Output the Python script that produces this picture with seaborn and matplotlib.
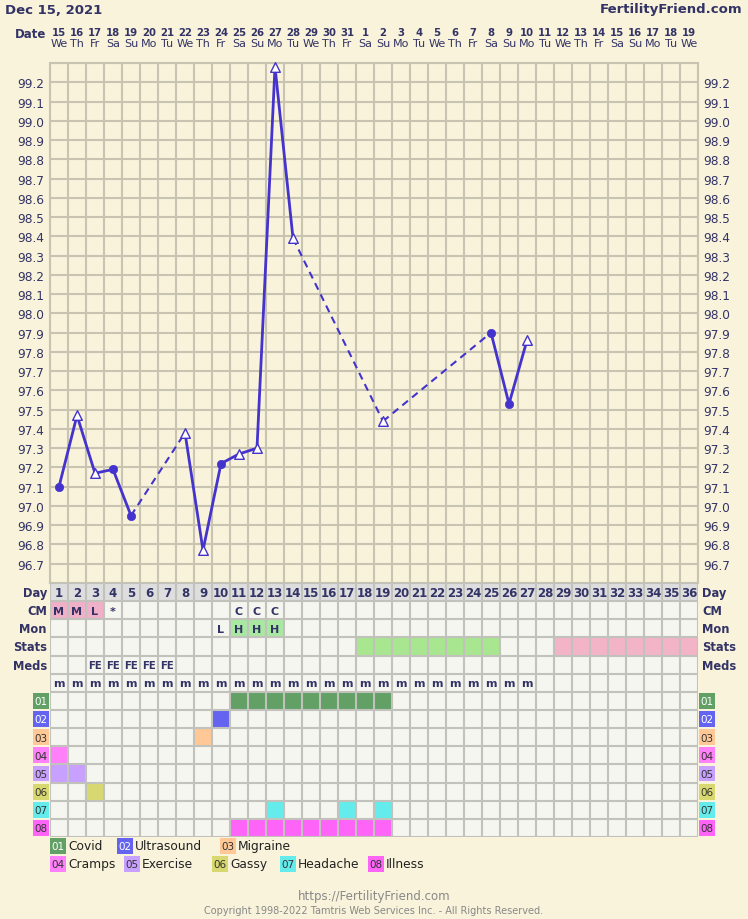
import numpy as np
import pandas as pd
import matplotlib
matplotlib.use('Agg')
import matplotlib.pyplot as plt
from matplotlib.patches import Rectangle
from matplotlib.transforms import blended_transform_factory
import seaborn as sns

sns.set_theme(style='white')
plt.rcParams['font.family'] = ['DejaVu Sans']

# ---------------- data ----------------
title_date = 'Dec 15, 2021'
site_name = 'FertilityFriend.com'
cycle_days = list(range(1, 37))
date_labels = ['15', '16', '17', '18', '19', '20', '21', '22', '23', '24', '25', '26',
               '27', '28', '29', '30', '31', '1', '2', '3', '4', '5', '6', '7', '8',
               '9', '10', '11', '12', '13', '14', '15', '16', '17', '18', '19']
weekday_labels = ['We', 'Th', 'Fr', 'Sa', 'Su', 'Mo', 'Tu', 'We', 'Th', 'Fr', 'Sa', 'Su',
                  'Mo', 'Tu', 'We', 'Th', 'Fr', 'Sa', 'Su', 'Mo', 'Tu', 'We', 'Th', 'Fr',
                  'Sa', 'Su', 'Mo', 'Tu', 'We', 'Th', 'Fr', 'Sa', 'Su', 'Mo', 'Tu', 'We']

temp_days = [1, 2, 3, 4, 5, 8, 9, 10, 11, 12, 13, 14, 19, 25, 26, 27]
temp_values = [97.10, 97.47, 97.17, 97.19, 96.95, 97.38, 96.77, 97.22, 97.27, 97.30,
               99.28, 98.39, 97.44, 97.90, 97.53, 97.86]
temp_markers = ['o', '^', '^', 'o', 'o', '^', '^', 'o', '^', '^', '^', '^', '^', 'o', 'o', '^']
temp_ticks = [96.7, 96.8, 96.9, 97.0, 97.1, 97.2, 97.3, 97.4, 97.5, 97.6, 97.7, 97.8, 97.9,
              98.0, 98.1, 98.2, 98.3, 98.4, 98.5, 98.6, 98.7, 98.8, 98.9, 99.0, 99.1, 99.2]

cm_days = [1, 2, 3, 4, 11, 12, 13]
cm_labels = ['M', 'M', 'L', '*', 'C', 'C', 'C']
cm_shaded = [True, True, True, False, False, False, False]
mon_days = [10, 11, 12, 13]
mon_labels = ['L', 'H', 'H', 'H']
mon_shaded = [False, True, True, True]
stats_green_days = [18, 19, 20, 21, 22, 23, 24, 25]
stats_pink_days = [29, 30, 31, 32, 33, 34, 35, 36]
meds_days = [3, 4, 5, 6, 7]
meds_labels = ['FE', 'FE', 'FE', 'FE', 'FE']
m_days = list(range(1, 28))

symptom_codes = ['01', '02', '03', '04', '05', '06', '07', '08']
symptom_names = ['Covid', 'Ultrasound', 'Migraine', 'Cramps', 'Exercise', 'Gassy',
                 'Headache', 'Illness']
covid_days = [11, 12, 13, 14, 15, 16, 17, 18, 19]
ultrasound_days = [10]
migraine_days = [9]
cramps_days = [1]
exercise_days = [1, 2]
gassy_days = [3]
headache_days = [13, 17, 19]
illness_days = [11, 12, 13, 14, 15, 16, 17, 18, 19]
symptom_days = [covid_days, ultrasound_days, migraine_days, cramps_days, exercise_days,
                gassy_days, headache_days, illness_days]

table_row_labels = ['Day', 'CM', 'Mon', 'Stats', 'Meds']

# ---------------- style ----------------
BG = '#f8f3da'
NAVY = '#333366'
LINE = '#4433cc'
GRID = '#c9c4b2'
CELL = '#f6f6f1'
DAYROW = '#dedede'
TGRID = '#c2c2bc'
sym_colors = ['#62a066', '#6464f0', '#ffc896', '#ff80f8', '#c8a0ff', '#d8d870',
              '#64ecec', '#ff64f8']
sym_text = ['white', 'white', '#333333', '#333333', '#333333', '#333333', '#333333', '#333333']
CM_PINK = '#f0b0c8'
MON_GREEN = '#a8e8a0'
STAT_GREEN = '#a8e690'
STAT_PINK = '#f4b4c8'

W, H = 748, 920
fig = plt.figure(figsize=(W / 100, H / 100), dpi=100, facecolor=BG)


def ax_px(x0, y0, x1, y1):
    return fig.add_axes([x0 / W, 1 - y1 / H, (x1 - x0) / W, (y1 - y0) / H])


def ftext(x, y, s, **kw):
    fig.text(x / W, 1 - y / H, s, **kw)


# ---------------- header ----------------
ftext(5, 10, title_date, fontsize=9.5, fontweight='bold', color=NAVY, va='center', ha='left')
ftext(742, 10, site_name, fontsize=9.5, fontweight='bold', color=NAVY, va='center', ha='right')
ftext(46, 35, 'Date', fontsize=8.5, fontweight='bold', color=NAVY, va='center', ha='right')

# ---------------- temperature chart ----------------
ax = ax_px(50, 64, 698, 584)
ax.set_facecolor(BG)
ax.set_xlim(0.5, 36.5)
ax.set_ylim(96.6, 99.3)
for d in cycle_days + [0]:
    ax.axvline(d + 0.5, color=GRID, lw=1.5, zorder=0)
for t in [96.6] + temp_ticks + [99.3]:
    ax.axhline(t, color=GRID, lw=1.5, zorder=0)
for sp in ax.spines.values():
    sp.set_color(GRID)
    sp.set_linewidth(1.5)
ax.set_xticks([])
ax.set_yticks(temp_ticks)
ax.set_yticklabels([f'{t:.1f}' for t in temp_ticks])
ax.tick_params(axis='y', length=0, pad=4, labelsize=8.7, labelcolor=NAVY,
               labelleft=True, labelright=True)
ax.set_xlabel('')
ax.set_ylabel('')

# date header via x data scale
tr = blended_transform_factory(ax.transData, fig.transFigure)
for d, lab, wd in zip(cycle_days, date_labels, weekday_labels):
    ax.text(d, 1 - 33 / H, lab, transform=tr, ha='center', va='center', fontsize=7.3,
            fontweight='bold', color=NAVY, clip_on=False)
    ax.text(d, 1 - 44 / H, wd, transform=tr, ha='center', va='center', fontsize=8,
            color=NAVY, clip_on=False)

df = pd.DataFrame({'day': temp_days, 'temp': temp_values, 'marker': temp_markers})
for i in range(len(df) - 1):
    seg = df.iloc[i:i + 2]
    consecutive = seg['day'].iloc[1] - seg['day'].iloc[0] == 1
    sns.lineplot(data=seg, x='day', y='temp', ax=ax, color=LINE,
                 lw=2.0 if consecutive else 1.5,
                 linestyle='-' if consecutive else (0, (3.5, 2.5)),
                 zorder=3, clip_on=False, legend=False)
sns.scatterplot(data=df[df['marker'] == 'o'], x='day', y='temp', ax=ax, marker='o', s=36,
                color=LINE, edgecolor=LINE, linewidth=0.5, zorder=4, clip_on=False,
                legend=False)
sns.scatterplot(data=df[df['marker'] == '^'], x='day', y='temp', ax=ax, marker='^', s=48,
                facecolor='white', edgecolor=LINE, linewidth=1.0, zorder=4, clip_on=False,
                legend=False)
ax.set_xlabel('')
ax.set_ylabel('')

# ---------------- table ----------------
nrows = 6 + len(symptom_codes)
tab = ax_px(50, 584, 698, 838)
tab.set_xlim(0.5, 36.5)
tab.set_ylim(nrows, 0)
tab.axis('off')
tab.add_patch(Rectangle((0.5, 0), 36, nrows, fc=CELL, ec='none', zorder=0))
tab.add_patch(Rectangle((0.5, 0), 36, 1, fc=DAYROW, ec='none', zorder=0))


def cell(day, row, color):
    tab.add_patch(Rectangle((day - 0.5, row), 1, 1, fc=color, ec='none', zorder=1))


def ctext(day, row, s, size=8.3, color=NAVY, weight='bold'):
    tab.text(day, row + 0.52, s, ha='center', va='center', fontsize=size, color=color,
             fontweight=weight, zorder=3)


for d in cycle_days:
    ctext(d, 0, str(d), size=8.5)
for d, lab, sh in zip(cm_days, cm_labels, cm_shaded):
    if sh:
        cell(d, 1, CM_PINK)
    ctext(d, 1, lab, size=8)
for d, lab, sh in zip(mon_days, mon_labels, mon_shaded):
    if sh:
        cell(d, 2, MON_GREEN)
    ctext(d, 2, lab, size=8)
for d in stats_green_days:
    cell(d, 3, STAT_GREEN)
for d in stats_pink_days:
    cell(d, 3, STAT_PINK)
for d, lab in zip(meds_days, meds_labels):
    ctext(d, 4, lab, size=7.3)
for d in m_days:
    ctext(d, 5, 'm', size=8)
for r, (days, col) in enumerate(zip(symptom_days, sym_colors)):
    for d in days:
        cell(d, 6 + r, col)

for k in range(37):
    tab.plot([0.5 + k, 0.5 + k], [0, nrows], color=TGRID, lw=1.5, zorder=2,
             solid_capstyle='butt')
for r in range(nrows + 1):
    tab.plot([0.5, 36.5], [r, r], color=TGRID, lw=1.5, zorder=2, solid_capstyle='butt')

for r, lab in enumerate(table_row_labels):
    tab.text(0.33, r + 0.52, lab, ha='right', va='center', fontsize=8.3, fontweight='bold',
             color=NAVY, clip_on=False)
    tab.text(36.72, r + 0.52, lab, ha='left', va='center', fontsize=8.3, fontweight='bold',
             color=NAVY, clip_on=False)

for r, (code, col, tc) in enumerate(zip(symptom_codes, sym_colors, sym_text)):
    row = 6 + r
    for x0 in (-0.45, 36.56):
        tab.add_patch(Rectangle((x0, row + 0.06), 0.88, 0.88, fc=col, ec='none',
                                clip_on=False))
        tab.text(x0 + 0.44, row + 0.52, code, ha='center', va='center', fontsize=7.5,
                 color=tc, clip_on=False)

# ---------------- legend ----------------
legend_pos = [(50, 847), (117, 847), (220, 847), (50, 865), (124, 865), (212, 865),
              (280, 865), (368, 865)]
for (x, y), code, name, col, tc in zip(legend_pos, symptom_codes, symptom_names,
                                       sym_colors, sym_text):
    fig.patches.append(Rectangle((x / W, 1 - (y + 8) / H), 16 / W, 16 / H, fc=col,
                                 ec='none', transform=fig.transFigure, figure=fig))
    ftext(x + 8, y, code, fontsize=7.5, color=tc, ha='center', va='center')
    ftext(x + 18, y, name, fontsize=8.8, color='#222222', ha='left', va='center')

# ---------------- footer ----------------
ftext(374, 897, 'https://FertilityFriend.com', fontsize=8.5, color='#888888',
      ha='center', va='center')
ftext(374, 911, 'Copyright 1998-2022 Tamtris Web Services Inc. - All Rights Reserved.',
      fontsize=7, color='#888888', ha='center', va='center')

fig.savefig('out.png', dpi=100, facecolor=BG)
